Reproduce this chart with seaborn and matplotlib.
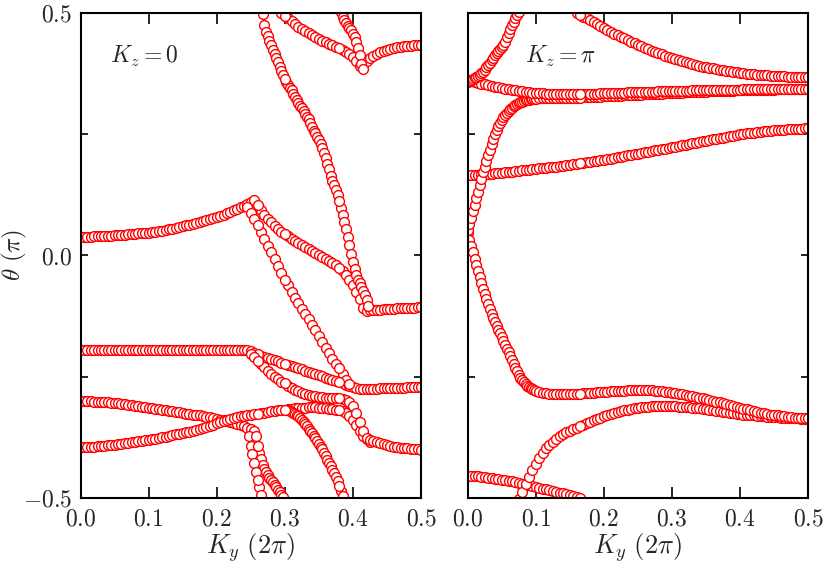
import numpy as np
import pandas as pd
import matplotlib
matplotlib.use("Agg")
import matplotlib.pyplot as plt
import seaborn as sns

# ---------------- data (theta in units of pi, k_y in units of 2pi) ----------------
DK = 0.005
DK_FINE = 0.0025

# ---- K_z = 0 panel ----
kz0_a_start = 0.0
kz0_a = [0.038, 0.038, 0.038, 0.038, 0.039, 0.039, 0.039, 0.039, 0.040, 0.040,
         0.041, 0.041, 0.042, 0.042, 0.043, 0.043, 0.044, 0.045, 0.045, 0.046,
         0.047, 0.048, 0.049, 0.050, 0.051, 0.052, 0.054, 0.055, 0.057, 0.058,
         0.060, 0.062, 0.063, 0.065, 0.067, 0.069, 0.071, 0.073, 0.075, 0.077,
         0.079, 0.082, 0.084, 0.087, 0.090, 0.093, 0.096, 0.099, 0.102, 0.106,
         0.110, 0.115]

kz0_branch_a_start = 0.260
kz0_branch_a = [0.103, 0.093, 0.083, 0.075, 0.068, 0.061, 0.055, 0.049, 0.044, 0.039,
                0.034, 0.030, 0.025, 0.021, 0.017, 0.013, 0.009, 0.005, 0.001, -0.003,
                -0.007, -0.011, -0.015, -0.020, -0.026, -0.032, -0.040, -0.050, -0.062, -0.075,
                -0.090, -0.108, -0.114, -0.113, -0.113, -0.112, -0.112, -0.111, -0.111, -0.110,
                -0.110, -0.109, -0.109, -0.109, -0.108, -0.108, -0.108, -0.107, -0.107]

kz0_branch_b_start = 0.245
kz0_branch_b = [0.100, 0.088, 0.075, 0.062, 0.048, 0.034, 0.020, 0.006, -0.008, -0.022,
                -0.036, -0.050, -0.062, -0.075, -0.087, -0.098, -0.110, -0.121, -0.132, -0.143,
                -0.154, -0.166, -0.178, -0.190, -0.202, -0.213, -0.223, -0.233, -0.245, -0.257,
                -0.265]

kz0_steep_start = 0.2675
kz0_steep = [0.497, 0.475, 0.460, 0.451, 0.442, 0.433, 0.424, 0.415, 0.406, 0.398,
             0.389, 0.380, 0.371, 0.363, 0.357, 0.351, 0.345, 0.340, 0.333, 0.327,
             0.320, 0.313, 0.308, 0.303, 0.297, 0.292, 0.286, 0.280, 0.272, 0.264,
             0.257, 0.251, 0.244, 0.237, 0.230, 0.221, 0.211, 0.200, 0.189, 0.177,
             0.164, 0.153, 0.144, 0.135, 0.124, 0.112, 0.098, 0.083, 0.069, 0.054,
             0.038, 0.021, 0.003, -0.014, -0.029, -0.041, -0.050, -0.058, -0.066, -0.073,
             -0.082, -0.092, -0.105]

kz0_top1_start = 0.295
kz0_top1 = [0.500, 0.494, 0.488, 0.482, 0.476, 0.471, 0.467, 0.462, 0.458, 0.454,
            0.450, 0.446, 0.442, 0.439, 0.436, 0.433, 0.430, 0.427, 0.423, 0.419,
            0.414, 0.408, 0.400, 0.390, 0.392, 0.400, 0.406, 0.411, 0.415, 0.419,
            0.422, 0.424, 0.426, 0.428, 0.429, 0.430, 0.431, 0.432, 0.432, 0.433,
            0.433, 0.433]

kz0_top2_start = 0.3825
kz0_top2 = [0.502, 0.492, 0.484, 0.478, 0.473, 0.469, 0.464, 0.457, 0.449, 0.440,
            0.427, 0.412, 0.394, 0.384]

kz0_flat_start = 0.0
kz0_flat = [-0.195] * 49 + [-0.196]

kz0_c1_start = 0.250
kz0_c1 = [-0.198, -0.201, -0.204, -0.207, -0.209, -0.211, -0.214, -0.216, -0.218, -0.221,
          -0.223, -0.226, -0.228, -0.231, -0.233, -0.235, -0.238, -0.240, -0.242, -0.245,
          -0.247, -0.249, -0.252, -0.254, -0.256, -0.259, -0.261, -0.264, -0.267, -0.270,
          -0.272, -0.274, -0.275, -0.275, -0.275, -0.275, -0.275, -0.275, -0.274, -0.274,
          -0.274, -0.274, -0.273, -0.273, -0.273, -0.273, -0.272, -0.272, -0.272, -0.272,
          -0.272]

kz0_c2_start = 0.250
kz0_c2 = [-0.203, -0.210, -0.217, -0.224, -0.231, -0.238, -0.244, -0.250, -0.255, -0.260,
          -0.264, -0.269, -0.273, -0.277, -0.280, -0.283, -0.285, -0.287, -0.289, -0.290,
          -0.291, -0.292, -0.293, -0.293, -0.294, -0.294, -0.295, -0.296, -0.298, -0.302,
          -0.310, -0.324, -0.344, -0.362, -0.376, -0.380, -0.383, -0.385, -0.387, -0.389,
          -0.391, -0.392, -0.394, -0.395, -0.396, -0.397, -0.398, -0.399, -0.400, -0.400,
          -0.401]

kz0_q_start = 0.0
kz0_q = [-0.395, -0.395, -0.395, -0.394, -0.394, -0.393, -0.393, -0.392, -0.391, -0.391,
         -0.390, -0.389, -0.388, -0.387, -0.386, -0.385, -0.384, -0.383, -0.382, -0.381,
         -0.380, -0.379, -0.378, -0.376, -0.375, -0.374, -0.372, -0.371, -0.369, -0.368,
         -0.366, -0.365, -0.363, -0.362, -0.360, -0.358, -0.356, -0.354, -0.351, -0.349,
         -0.346, -0.344, -0.341, -0.339, -0.337, -0.335, -0.334, -0.332, -0.331, -0.329,
         -0.328, -0.327, -0.326, -0.325, -0.324, -0.323, -0.321, -0.320, -0.319, -0.318,
         -0.318, -0.317, -0.316, -0.315, -0.315, -0.314, -0.314, -0.313, -0.313, -0.313,
         -0.314, -0.314, -0.315, -0.316, -0.317, -0.318, -0.319, -0.321, -0.325, -0.331,
         -0.339, -0.350, -0.362, -0.372, -0.379, -0.384]

kz0_p_start = 0.0
kz0_p = [-0.301, -0.301, -0.301, -0.301, -0.302, -0.302, -0.302, -0.303, -0.303, -0.304,
         -0.305, -0.305, -0.306, -0.307, -0.308, -0.309, -0.310, -0.311, -0.312, -0.313,
         -0.314, -0.315, -0.316, -0.317, -0.318, -0.319, -0.320, -0.321, -0.322, -0.323,
         -0.324, -0.326, -0.327, -0.328, -0.329, -0.330, -0.332, -0.333, -0.334, -0.336,
         -0.337, -0.339, -0.340, -0.342, -0.343, -0.345, -0.347, -0.349, -0.352, -0.355,
         -0.358, -0.361]

kz0_p1_start = 0.2475
kz0_p1 = [-0.372, -0.392, -0.410, -0.428, -0.446, -0.462, -0.478, -0.494]

kz0_p2_start = 0.2575
kz0_p2 = [-0.372, -0.392, -0.407, -0.420, -0.431, -0.440, -0.447, -0.453, -0.458, -0.463,
          -0.468, -0.473, -0.478, -0.483, -0.488, -0.493, -0.498]

kz0_d_start = 0.305
kz0_d = [-0.318, -0.320, -0.322, -0.324, -0.326, -0.329, -0.332, -0.335, -0.339, -0.343,
         -0.347, -0.352, -0.357, -0.362, -0.367, -0.372, -0.377, -0.382, -0.388, -0.394,
         -0.400, -0.407, -0.414, -0.421, -0.428, -0.435, -0.442, -0.449, -0.457, -0.466,
         -0.475, -0.485, -0.496]

# ---- K_z = pi panel ----
kzp_r1_start = 0.0
kzp_r1 = [0.358, 0.360, 0.362, 0.364, 0.366, 0.368, 0.370, 0.372, 0.375, 0.378,
          0.382, 0.387, 0.392, 0.397, 0.402, 0.407, 0.412, 0.417, 0.421, 0.425,
          0.429, 0.434, 0.440, 0.450, 0.459, 0.467, 0.474, 0.481, 0.488, 0.495,
          0.502]

kzp_r2_start = 0.0
kzp_r2 = [0.361, 0.359, 0.357, 0.356, 0.354, 0.352, 0.350, 0.349, 0.347, 0.346,
          0.345, 0.343, 0.342, 0.341, 0.340, 0.339, 0.338, 0.337, 0.336, 0.335,
          0.335, 0.334, 0.334, 0.333, 0.333, 0.333, 0.332, 0.332, 0.332, 0.332,
          0.332, 0.332, 0.332, 0.332, 0.332, 0.332, 0.333, 0.333, 0.333, 0.334,
          0.334, 0.334, 0.334, 0.335, 0.335, 0.335, 0.335, 0.336, 0.336, 0.336,
          0.336, 0.337, 0.337, 0.337, 0.337, 0.337, 0.338, 0.338, 0.338, 0.338,
          0.338, 0.339, 0.339, 0.339, 0.339, 0.339, 0.340, 0.340, 0.340, 0.340,
          0.340, 0.340, 0.341, 0.341, 0.341, 0.341, 0.341, 0.341, 0.341, 0.341,
          0.341, 0.342, 0.342, 0.342, 0.342, 0.342, 0.342, 0.342, 0.342, 0.342,
          0.342, 0.342, 0.342, 0.342, 0.342, 0.342, 0.342, 0.342, 0.342, 0.342,
          0.342]

kzp_r3a_start = 0.0
kzp_r3a = [0.052, 0.064, 0.077, 0.091, 0.104, 0.118, 0.131, 0.145, 0.158, 0.171,
           0.183, 0.195, 0.207, 0.218, 0.229, 0.239, 0.249, 0.258, 0.266, 0.273,
           0.279, 0.285, 0.290, 0.294, 0.298, 0.301, 0.304, 0.307, 0.309, 0.311,
           0.313, 0.315, 0.316, 0.318, 0.319, 0.320, 0.321, 0.322, 0.322, 0.323,
           0.323]

kzp_r3b_start = 0.105
kzp_r3b = [0.324, 0.324, 0.325, 0.325, 0.325, 0.325, 0.325, 0.325, 0.325, 0.325,
           0.325, 0.325, 0.325, 0.326, 0.326, 0.326, 0.327, 0.327, 0.327, 0.328,
           0.328, 0.328, 0.329, 0.329, 0.329, 0.330, 0.330, 0.330, 0.331, 0.331,
           0.331, 0.332, 0.332, 0.332, 0.333, 0.333, 0.333, 0.334, 0.334, 0.334,
           0.335, 0.335, 0.335, 0.336, 0.336, 0.336, 0.337, 0.337, 0.337, 0.337,
           0.338, 0.338, 0.338, 0.338, 0.339, 0.339, 0.339, 0.339, 0.340, 0.340,
           0.340, 0.340, 0.340, 0.341, 0.341, 0.341, 0.341, 0.341, 0.341, 0.341,
           0.342, 0.342, 0.342, 0.342, 0.342, 0.342, 0.342, 0.342, 0.342, 0.342]

kzp_r4a_start = 0.0
kzp_r4a = [0.045, 0.032, 0.019, 0.006, -0.007, -0.020, -0.033, -0.045, -0.057, -0.069,
           -0.080, -0.091, -0.101, -0.111, -0.120, -0.129, -0.138, -0.146, -0.154, -0.161,
           -0.168, -0.176, -0.184, -0.192, -0.200, -0.208, -0.216, -0.224, -0.232, -0.239,
           -0.246, -0.252, -0.257, -0.262, -0.266, -0.269, -0.272, -0.274, -0.276, -0.278,
           -0.279]

kzp_r4b_start = 0.105
kzp_r4b = [-0.281, -0.283, -0.284, -0.285, -0.286, -0.286, -0.286, -0.286, -0.286, -0.286,
           -0.285, -0.285, -0.285, -0.284, -0.284, -0.283, -0.283, -0.282, -0.282, -0.281,
           -0.281, -0.280, -0.280, -0.279, -0.279, -0.279, -0.278, -0.278, -0.278, -0.278,
           -0.278, -0.278, -0.278, -0.278, -0.279, -0.279, -0.280, -0.281, -0.282, -0.283,
           -0.284, -0.285, -0.286, -0.287, -0.289, -0.290, -0.292, -0.293, -0.295, -0.296,
           -0.298, -0.300, -0.302, -0.303, -0.305, -0.307, -0.309, -0.310, -0.312, -0.314,
           -0.316, -0.317, -0.319, -0.321, -0.322, -0.324, -0.325, -0.327, -0.328, -0.329,
           -0.330, -0.331, -0.332, -0.333, -0.334, -0.335, -0.335, -0.336, -0.336, -0.336]

kzp_r6_start = 0.075
kzp_r6 = [-0.503, -0.487, -0.472, -0.457, -0.443, -0.430, -0.418, -0.407, -0.398, -0.391,
          -0.384, -0.378, -0.373, -0.368, -0.364, -0.361, -0.358, -0.355, -0.352, -0.349,
          -0.346, -0.343, -0.340, -0.337, -0.335, -0.332, -0.330, -0.327, -0.325, -0.323,
          -0.321, -0.319, -0.318, -0.316, -0.315, -0.314, -0.313, -0.312, -0.312, -0.311,
          -0.311, -0.311, -0.311, -0.311, -0.311, -0.311, -0.311, -0.312, -0.312, -0.313,
          -0.313, -0.314, -0.315, -0.315, -0.316, -0.317, -0.318, -0.319, -0.320, -0.321,
          -0.322, -0.323, -0.324, -0.325, -0.326, -0.327, -0.328, -0.329, -0.329, -0.330,
          -0.331, -0.332, -0.332, -0.333, -0.333, -0.334, -0.334, -0.335, -0.335, -0.335,
          -0.336, -0.336, -0.336, -0.337, -0.337, -0.337]

kzp_r7_start = 0.0
kzp_r7 = [-0.454, -0.454, -0.455, -0.455, -0.456, -0.457, -0.458, -0.459, -0.460, -0.461,
          -0.462, -0.463, -0.465, -0.466, -0.468, -0.470, -0.471, -0.473, -0.474, -0.476,
          -0.477, -0.479, -0.481, -0.482, -0.484, -0.485, -0.487, -0.489, -0.490, -0.492,
          -0.494, -0.496, -0.497, -0.499]

kzp_r8_start = 0.160
kzp_r8 = [0.500, 0.496, 0.492, 0.488, 0.484, 0.480, 0.476, 0.472, 0.468, 0.464,
          0.460, 0.457, 0.453, 0.450, 0.447, 0.443, 0.440, 0.437, 0.434, 0.431,
          0.428, 0.425, 0.422, 0.419, 0.416, 0.414, 0.411, 0.409, 0.407, 0.404,
          0.402, 0.400, 0.398, 0.396, 0.394, 0.393, 0.391, 0.389, 0.388, 0.386,
          0.385, 0.384, 0.382, 0.381, 0.380, 0.379, 0.378, 0.377, 0.376, 0.375,
          0.374, 0.374, 0.373, 0.372, 0.372, 0.371, 0.371, 0.370, 0.370, 0.369,
          0.369, 0.369, 0.368, 0.368, 0.368, 0.368, 0.367, 0.367, 0.367]

kzp_r9_start = 0.0
kzp_r9 = [0.165, 0.165, 0.166, 0.166, 0.167, 0.167, 0.168, 0.168, 0.169, 0.170,
          0.170, 0.171, 0.172, 0.172, 0.173, 0.174, 0.175, 0.175, 0.176, 0.177,
          0.178, 0.179, 0.180, 0.180, 0.181, 0.182, 0.183, 0.184, 0.185, 0.186,
          0.187, 0.188, 0.189, 0.190, 0.191, 0.192, 0.193, 0.194, 0.195, 0.196,
          0.197, 0.198, 0.199, 0.201, 0.202, 0.203, 0.204, 0.206, 0.207, 0.208,
          0.209, 0.211, 0.212, 0.213, 0.215, 0.216, 0.217, 0.219, 0.220, 0.221,
          0.223, 0.224, 0.225, 0.227, 0.228, 0.229, 0.231, 0.232, 0.233, 0.235,
          0.236, 0.237, 0.239, 0.240, 0.241, 0.242, 0.244, 0.245, 0.246, 0.247,
          0.249, 0.250, 0.251, 0.252, 0.253, 0.254, 0.255, 0.256, 0.256, 0.257,
          0.258, 0.258, 0.259, 0.259, 0.260, 0.260, 0.261, 0.261, 0.261, 0.262,
          0.262]

# tick labels / axis text
x_ticks = [0.0, 0.1, 0.2, 0.3, 0.4, 0.5]
x_ticklabels = [r"$0.0$", r"$0.1$", r"$0.2$", r"$0.3$", r"$0.4$", r"$0.5$"]
y_ticks = [-0.5, -0.25, 0.0, 0.25, 0.5]
y_ticklabels = [r"$-0.5$", "", r"$0.0$", "", r"$0.5$"]
panel_titles = [r"$K_z=0$", r"$K_z=\pi$"]
x_label = r"$K_y\ (2\pi)$"
y_label = r"$\theta\ (\pi)$"

# segment boundaries in k (later segments drawn first)
left_bounds = [0.26, 0.30, 0.38]
right_bounds = [0.165]


def make_curve(start, step, vals, cid):
    k = start + step * np.arange(len(vals))
    return pd.DataFrame({"k": k, "theta": vals, "cid": cid})


def assemble(curves, bounds):
    frames = [make_curve(s, st, v, i) for i, (s, st, v) in enumerate(curves)]
    df = pd.concat(frames, ignore_index=True)
    df["seg"] = np.searchsorted(np.array(bounds) + 1e-9, df["k"].values)
    df = df.sort_values(["seg", "cid", "k"], ascending=[False, True, True], kind="stable")
    return df.reset_index(drop=True)


left_curves = [
    (kz0_flat_start, DK, kz0_flat),
    (kz0_p_start, DK, kz0_p),
    (kz0_q_start, DK, kz0_q),
    (kz0_p1_start, DK_FINE, kz0_p1),
    (kz0_p2_start, DK_FINE, kz0_p2),
    (kz0_d_start, DK_FINE, kz0_d),
    (kz0_c1_start, DK, kz0_c1),
    (kz0_c2_start, DK, kz0_c2),
    (kz0_a_start, DK, kz0_a),
    (kz0_branch_b_start, DK, kz0_branch_b),
    (kz0_branch_a_start, DK, kz0_branch_a),
    (kz0_steep_start, DK_FINE, kz0_steep),
    (kz0_top1_start, DK, kz0_top1),
    (kz0_top2_start, DK_FINE, kz0_top2),
]
right_curves = [
    (kzp_r7_start, DK, kzp_r7),
    (kzp_r6_start, DK, kzp_r6),
    (kzp_r4a_start, DK_FINE, kzp_r4a),
    (kzp_r4b_start, DK, kzp_r4b),
    (kzp_r9_start, DK, kzp_r9),
    (kzp_r3a_start, DK_FINE, kzp_r3a),
    (kzp_r3b_start, DK, kzp_r3b),
    (kzp_r2_start, DK, kzp_r2),
    (kzp_r1_start, DK_FINE, kzp_r1),
    (kzp_r8_start, DK, kzp_r8),
]

df_left = assemble(left_curves, left_bounds)
df_right = assemble(right_curves, right_bounds)

# ---------------- plotting ----------------
sns.set_style("ticks")
plt.rcParams["mathtext.fontset"] = "cm"
plt.rcParams["font.family"] = ["DejaVu Serif"]

fig = plt.figure(figsize=(8.3, 5.67), dpi=100)
ax_l = fig.add_axes([0.097, 0.1217, 0.4102, 0.856])
ax_r = fig.add_axes([0.5635, 0.1217, 0.4102, 0.856])

for ax, df, title, tx in [(ax_l, df_left, panel_titles[0], 0.043),
                          (ax_r, df_right, panel_titles[1], 0.084)]:
    sns.scatterplot(data=df, x="k", y="theta", ax=ax, marker="o", s=50,
                    color="white", edgecolor="red", linewidth=1.0, legend=False)
    ax.set_xlim(0, 0.5)
    ax.set_ylim(-0.5, 0.5)
    ax.set_xticks(x_ticks)
    ax.set_xticklabels(x_ticklabels)
    ax.set_yticks(y_ticks)
    ax.tick_params(axis="both", direction="in", top=True, right=True,
                   labelsize=17, width=1.2, color="black")
    ax.tick_params(axis="x", length=8, pad=7)
    ax.tick_params(axis="y", length=5, pad=6)
    for sp in ax.spines.values():
        sp.set_linewidth(1.5)
        sp.set_color("black")
    ax.set_xlabel(x_label, fontsize=19, labelpad=0)
    ax.text(tx, 0.41, title, fontsize=17, va="center", ha="left")

ax_l.set_yticklabels(y_ticklabels)
ax_l.set_ylabel(y_label, fontsize=18)
ax_l.yaxis.set_label_coords(-0.15, 0.5)
ax_r.set_ylabel("")
ax_r.tick_params(axis="y", labelleft=False)

fig.savefig("out.png", dpi=100)
